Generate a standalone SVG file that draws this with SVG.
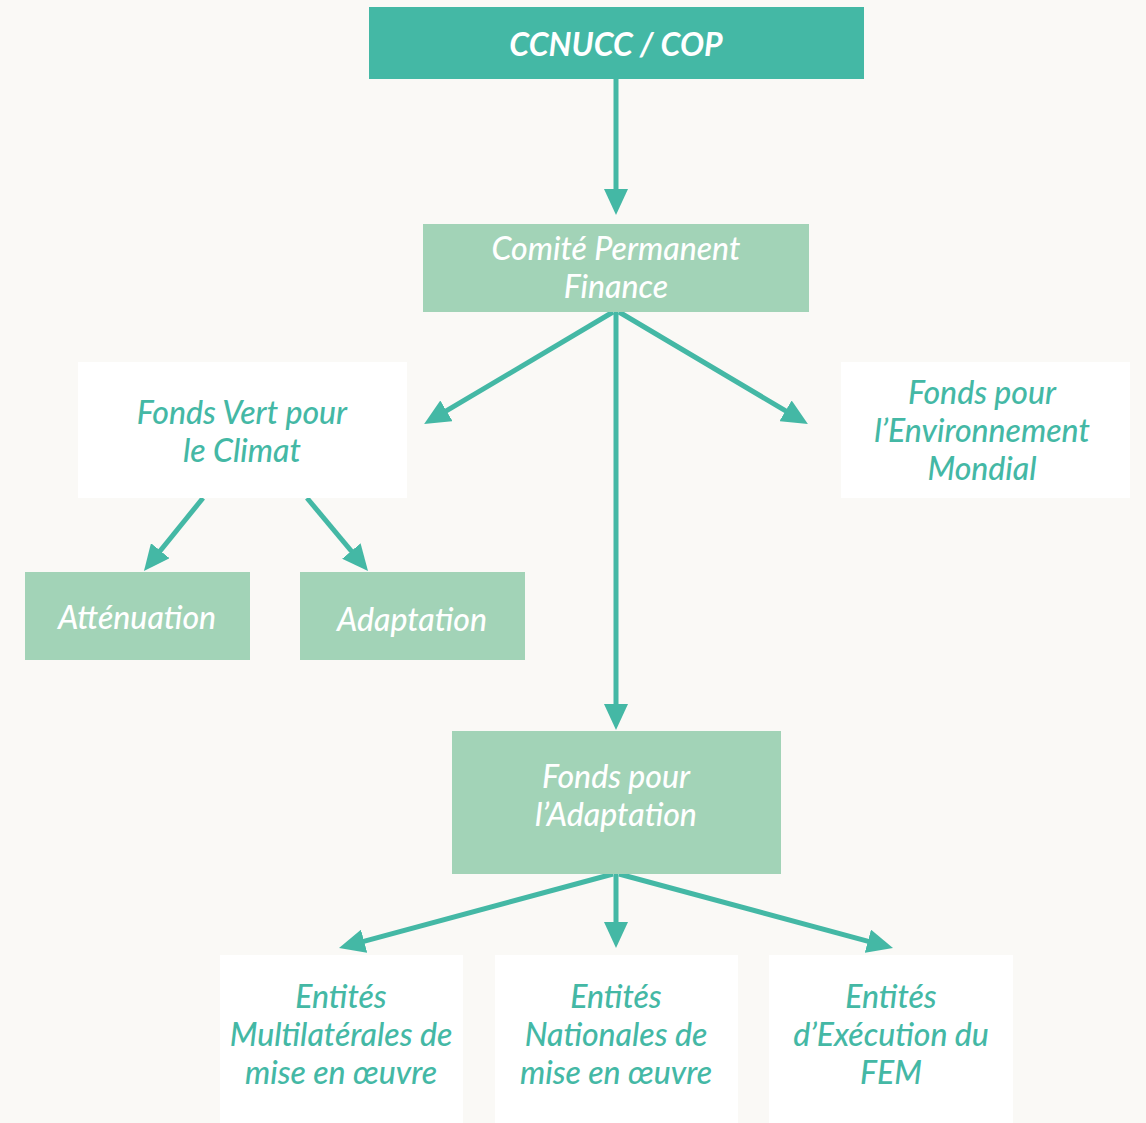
<svg xmlns="http://www.w3.org/2000/svg" width="1146" height="1123" viewBox="0 0 1146 1123">
<defs>
<style>
.dark{fill:#44b8a5}
.light{fill:#a2d3b7}
.white{fill:#ffffff}
text{font-family:Lato,"Open Sans","Liberation Sans",sans-serif;font-style:italic;font-size:32px;font-weight:500;text-anchor:middle}
.tw{fill:#ffffff}
.tg{fill:#44b8a5}
.bold{font-weight:bold}
.conn line{stroke:#44b8a5;stroke-width:5;marker-end:url(#ah)}
</style>
<marker id="ah" markerUnits="userSpaceOnUse" markerWidth="26" markerHeight="24" refX="11" refY="12" orient="auto">
<path d="M0,0 L26,12 L0,24 z" fill="#44b8a5"/>
</marker>
</defs>
<rect width="1146" height="1123" fill="#faf9f6"/>
<g id="connectors" class="conn">
<line x1="616" y1="79" x2="616" y2="200"/>
<line x1="613" y1="312" x2="437" y2="416.4"/>
<line x1="619" y1="312" x2="795" y2="416.4"/>
<line x1="616" y1="312" x2="616" y2="715"/>
<line x1="203" y1="498" x2="153.4" y2="559.3"/>
<line x1="307" y1="498" x2="358.4" y2="559.5"/>
<line x1="613" y1="874" x2="353.5" y2="944.1"/>
<line x1="616" y1="874" x2="616" y2="933"/>
<line x1="619" y1="874" x2="878.5" y2="944.1"/>
</g>
<g id="ccnucc">
<rect class="dark" x="369" y="7" width="495" height="72"/>
<text class="tw bold" x="616" y="56">CCNUCC / COP</text>
</g>
<g id="comite">
<rect class="light" x="423" y="224" width="386" height="88"/>
<text class="tw" x="616" y="260">Comité Permanent</text>
<text class="tw" x="616" y="298">Finance</text>
</g>
<g id="fonds-vert">
<rect class="white" x="78" y="362" width="329" height="136"/>
<text class="tg" x="242" y="424">Fonds Vert pour</text>
<text class="tg" x="242" y="462">le Climat</text>
</g>
<g id="fem">
<rect class="white" x="841" y="362" width="289" height="136"/>
<text class="tg" x="982" y="404">Fonds pour</text>
<text class="tg" x="982" y="442">l’Environnement</text>
<text class="tg" x="982" y="480">Mondial</text>
</g>
<g id="attenuation">
<rect class="light" x="25" y="572" width="225" height="88"/>
<text class="tw" x="137" y="629">Atténuation</text>
</g>
<g id="adaptation">
<rect class="light" x="300" y="572" width="225" height="88"/>
<text class="tw" x="412" y="631">Adaptation</text>
</g>
<g id="fonds-adaptation">
<rect class="light" x="452" y="731" width="329" height="143"/>
<text class="tw" x="616" y="788">Fonds pour</text>
<text class="tw" x="616" y="826">l’Adaptation</text>
</g>
<g id="entites-multi">
<rect class="white" x="220" y="955" width="243" height="168"/>
<text class="tg" x="341" y="1008">Entités</text>
<text class="tg" x="341" y="1046">Multilatérales de</text>
<text class="tg" x="341" y="1084">mise en œuvre</text>
</g>
<g id="entites-nat">
<rect class="white" x="495" y="955" width="243" height="168"/>
<text class="tg" x="616" y="1008">Entités</text>
<text class="tg" x="616" y="1046">Nationales de</text>
<text class="tg" x="616" y="1084">mise en œuvre</text>
</g>
<g id="entites-fem">
<rect class="white" x="769" y="955" width="244" height="168"/>
<text class="tg" x="891" y="1008">Entités</text>
<text class="tg" x="891" y="1046">d’Exécution du</text>
<text class="tg" x="891" y="1084">FEM</text>
</g>
</svg>
